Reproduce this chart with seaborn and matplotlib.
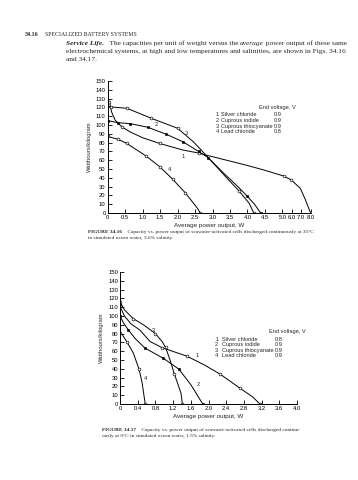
import numpy as np
import pandas as pd
import matplotlib
matplotlib.use('Agg')
import matplotlib.pyplot as plt
import seaborn as sns

sns.set_theme(style='ticks')
plt.rcParams['font.family'] = ['Liberation Sans', 'DejaVu Sans']

# FIGURE 34.16 - 35 C, 3.6% salinity
silver_x_35 = [0, 0.05, 0.11, 0.21, 0.4, 0.63, 1.0, 1.49, 2.15, 2.62, 2.81, 3.5, 4.0, 4.5, 5.14, 5.95, 6.9, 7.45, 7.8, 8.0]
silver_y_35 = [128, 126.5, 115, 105.7, 98, 92.4, 85.5, 79, 71.6, 68, 65.9, 59, 54, 48.5, 42, 37.5, 28, 14.8, 5, 0]
iodide_x_35 = [0, 0.3, 0.65, 1.15, 1.68, 2.15, 2.6, 2.87, 3.3, 3.7, 3.99, 4.2, 4.38]
iodide_y_35 = [105, 102.6, 101.5, 97.4, 89.4, 81, 70, 63, 46, 31, 19.3, 10, 0]
thiocyanate_x_35 = [0, 0.1, 0.55, 1.25, 2.0, 2.45, 2.81, 3.38, 3.76, 4.05, 4.18]
thiocyanate_y_35 = [121, 120.5, 119, 107.6, 96.3, 81, 65.9, 41, 25, 11, 0]
lead_x_35 = [0, 0.3, 0.54, 1.09, 1.49, 1.86, 2.22, 2.57, 2.65]
lead_y_35 = [87, 83.7, 79.2, 65, 52.6, 38.3, 23, 5.3, 0]

# FIGURE 34.17 - 0 C, 1.5% salinity
silver_x_0 = [0, 0.1, 0.25, 0.45, 0.68, 0.95, 1.51, 1.92, 2.26, 2.71, 3.0, 3.16]
silver_y_0 = [111, 100, 91, 84, 71, 64, 54.4, 44, 34, 18, 8, 0]
iodide_x_0 = [0, 0.08, 0.19, 0.35, 0.56, 0.98, 1.33, 1.6, 1.87]
iodide_y_0 = [100, 92, 84, 74, 63.7, 51.9, 39.6, 22, 0]
thiocyanate_x_0 = [0, 0.1, 0.3, 0.53, 0.8, 0.95, 1.03, 1.13, 1.23, 1.38, 1.41]
thiocyanate_y_0 = [116, 107, 97, 90, 80, 71, 64.4, 50, 34, 12, 0]
lead_x_0 = [0, 0.05, 0.15, 0.3, 0.43, 0.5, 0.57]
lead_y_0 = [81, 79, 71, 58, 39.6, 24, 0]

cell_names = ['Silver chloride', 'Cuprous iodide', 'Cuprous thiocyanate', 'Lead chloride']
end_voltage_35 = ['0.9', '0.9', '0.9', '0.8']
end_voltage_0 = ['0.8', '0.9', '0.9', '0.9']

y_ticks = list(range(0, 151, 10))
x_ticks_35 = [0, 0.5, 1.0, 1.5, 2.0, 2.5, 3.0, 3.5, 4.0, 4.5, 5.0, 6.0, 7.0, 8.0]
x_labels_35 = ['0', '0.5', '1.0', '1.5', '2.0', '2.5', '3.0', '3.5', '4.0', '4.5', '5.0', '6.0', '7.0', '8.0']
x_ticks_0 = [0, 0.4, 0.8, 1.2, 1.6, 2.0, 2.4, 2.8, 3.2, 3.6, 4.0]
x_labels_0 = ['0', '0.4', '0.8', '1.2', '1.6', '2.0', '2.4', '2.8', '3.2', '3.6', '4.0']

W, H = 358, 480
SERIF = ['Liberation Serif', 'DejaVu Serif']


def squeeze(x):
    x = np.asarray(x, dtype=float)
    return np.where(x <= 5.0, x, 5.0 + (x - 5.0) * 0.27)


def unsqueeze(u):
    u = np.asarray(u, dtype=float)
    return np.where(u <= 5.0, u, 5.0 + (u - 5.0) / 0.27)


def draw_curve(ax, x, y, filled, marks):
    df = pd.DataFrame({'power': x, 'capacity': y})
    sns.lineplot(data=df, x='power', y='capacity', ax=ax, color='black', lw=0.7,
                 estimator=None, sort=False, marker='s' if filled else 'o',
                 markevery=marks, ms=1.6 if filled else 2.0,
                 mfc='black' if filled else 'white', mec='black', mew=0.45)


def style_axes(ax, xt, xl):
    ax.set_ylim(0, 150)
    ax.set_yticks(y_ticks)
    ax.set_yticklabels([str(v) for v in y_ticks])
    ax.set_xticks(xt)
    ax.set_xticklabels(xl)
    ax.tick_params(direction='in', length=3, width=0.6, labelsize=4.2, pad=1.5, colors='black')
    sns.despine(ax=ax)
    for s in ['left', 'bottom']:
        ax.spines[s].set_linewidth(0.7)
        ax.spines[s].set_color('black')
    ax.set_xlabel('Average power output, W', fontsize=4.5, labelpad=2)
    ax.set_ylabel('Watthours/kilogram', fontsize=4.2, labelpad=3)


def legend_block(ax, x_num, x_name, x_val, x_head, y_head, y_rows, volts):
    ax.text(x_head, y_head, 'End voltage, V', fontsize=4.1, va='center')
    for i, (name, v) in enumerate(zip(cell_names, volts)):
        ax.text(x_num, y_rows[i], str(i + 1), fontsize=4.1, va='center')
        ax.text(x_name, y_rows[i], name, fontsize=4.1, va='center')
        ax.text(x_val, y_rows[i], v, fontsize=4.1, va='center')


def run_text(fig, x, y, parts):
    # y is the baseline, in pixels from the top
    r = fig.canvas.get_renderer()
    for s, kw in parts:
        t = fig.text(x / W, 1 - y / H, s, va='baseline', ha='left', family=SERIF, **kw)
        x = t.get_window_extent(r).x1


fig = plt.figure(figsize=(W / 100, H / 100), dpi=100)
fig.patch.set_facecolor('white')

# top chart
ax1 = fig.add_axes([107.7 / W, 1 - 213 / H, 203 / W, 132 / H])
ax1.set_xscale('function', functions=(squeeze, unsqueeze))
ax1.set_xlim(0, 8.0)
draw_curve(ax1, silver_x_35, silver_y_35, False, [1, 4, 7, 9, 14, 15, 19])
draw_curve(ax1, iodide_x_35, iodide_y_35, True, [0, 1, 2, 3, 4, 5, 6, 7, 10, 12])
draw_curve(ax1, thiocyanate_x_35, thiocyanate_y_35, False, [1, 2, 3, 4, 8, 10])
draw_curve(ax1, lead_x_35, lead_y_35, False, [0, 1, 2, 3, 4, 5, 6, 8])
style_axes(ax1, x_ticks_35, x_labels_35)
for lab, (lx, ly) in zip('1234', [(2.1, 63), (1.35, 99), (2.2, 89), (1.72, 48)]):
    ax1.text(lx, ly, lab, fontsize=4.2)
legend_block(ax1, 3.1, 3.25, 4.75, 4.33, 119.5, [111.7, 105.2, 98.7, 92.2], end_voltage_35)

# bottom chart
ax2 = fig.add_axes([120 / W, 1 - 404 / H, 177 / W, 132 / H])
ax2.set_xlim(0, 4.0)
draw_curve(ax2, silver_x_0, silver_y_0, False, [0, 5, 6, 8, 9, 11])
draw_curve(ax2, iodide_x_0, iodide_y_0, True, [0, 2, 4, 5, 6, 8])
draw_curve(ax2, thiocyanate_x_0, thiocyanate_y_0, False, [0, 2, 4, 6, 8, 10])
draw_curve(ax2, lead_x_0, lead_y_0, False, [0, 2, 4, 6])
style_axes(ax2, x_ticks_0, x_labels_0)
for lab, (lx, ly) in zip('1234', [(1.71, 53), (1.73, 21), (0.72, 82), (0.53, 27)]):
    ax2.text(lx, ly, lab, fontsize=4.2)
legend_block(ax2, 2.15, 2.3, 3.5, 3.37, 82, [73.5, 67.2, 61, 54.6], end_voltage_0)

# page text
run_text(fig, 25, 36, [('34.16', dict(fontsize=4.4, weight='bold')),
                       ('    SPECIALIZED BATTERY SYSTEMS', dict(fontsize=4.2))])
run_text(fig, 65.7, 45, [('Service Life.', dict(fontsize=5.3, weight='bold', style='italic')),
                         ('   The capacities per unit of weight versus the ', dict(fontsize=5.3)),
                         ('average', dict(fontsize=5.3, style='italic')),
                         (' power output of these same', dict(fontsize=5.3))])
run_text(fig, 65.7, 53, [('electrochemical systems, at high and low temperatures and salinities, are shown in Figs. 34.16', dict(fontsize=5.3))])
run_text(fig, 65.7, 61, [('and 34.17.', dict(fontsize=5.3))])
run_text(fig, 88, 233, [('FIGURE 34.16', dict(fontsize=3.9, weight='bold')),
                        ('    Capacity vs. power output of seawater-activated cells discharged continuously at 35\u00b0C', dict(fontsize=3.9))])
run_text(fig, 88, 239, [('in simulated ocean water, 3.6% salinity.', dict(fontsize=3.9))])
run_text(fig, 102, 431, [('FIGURE 34.17', dict(fontsize=3.9, weight='bold')),
                         ('    Capacity vs. power output of seawater-activated cells discharged continu-', dict(fontsize=3.9))])
run_text(fig, 102, 437, [('ously at 0\u00b0C in simulated ocean water, 1.5% salinity.', dict(fontsize=3.9))])

fig.savefig('out.png', dpi=100, facecolor='white')
